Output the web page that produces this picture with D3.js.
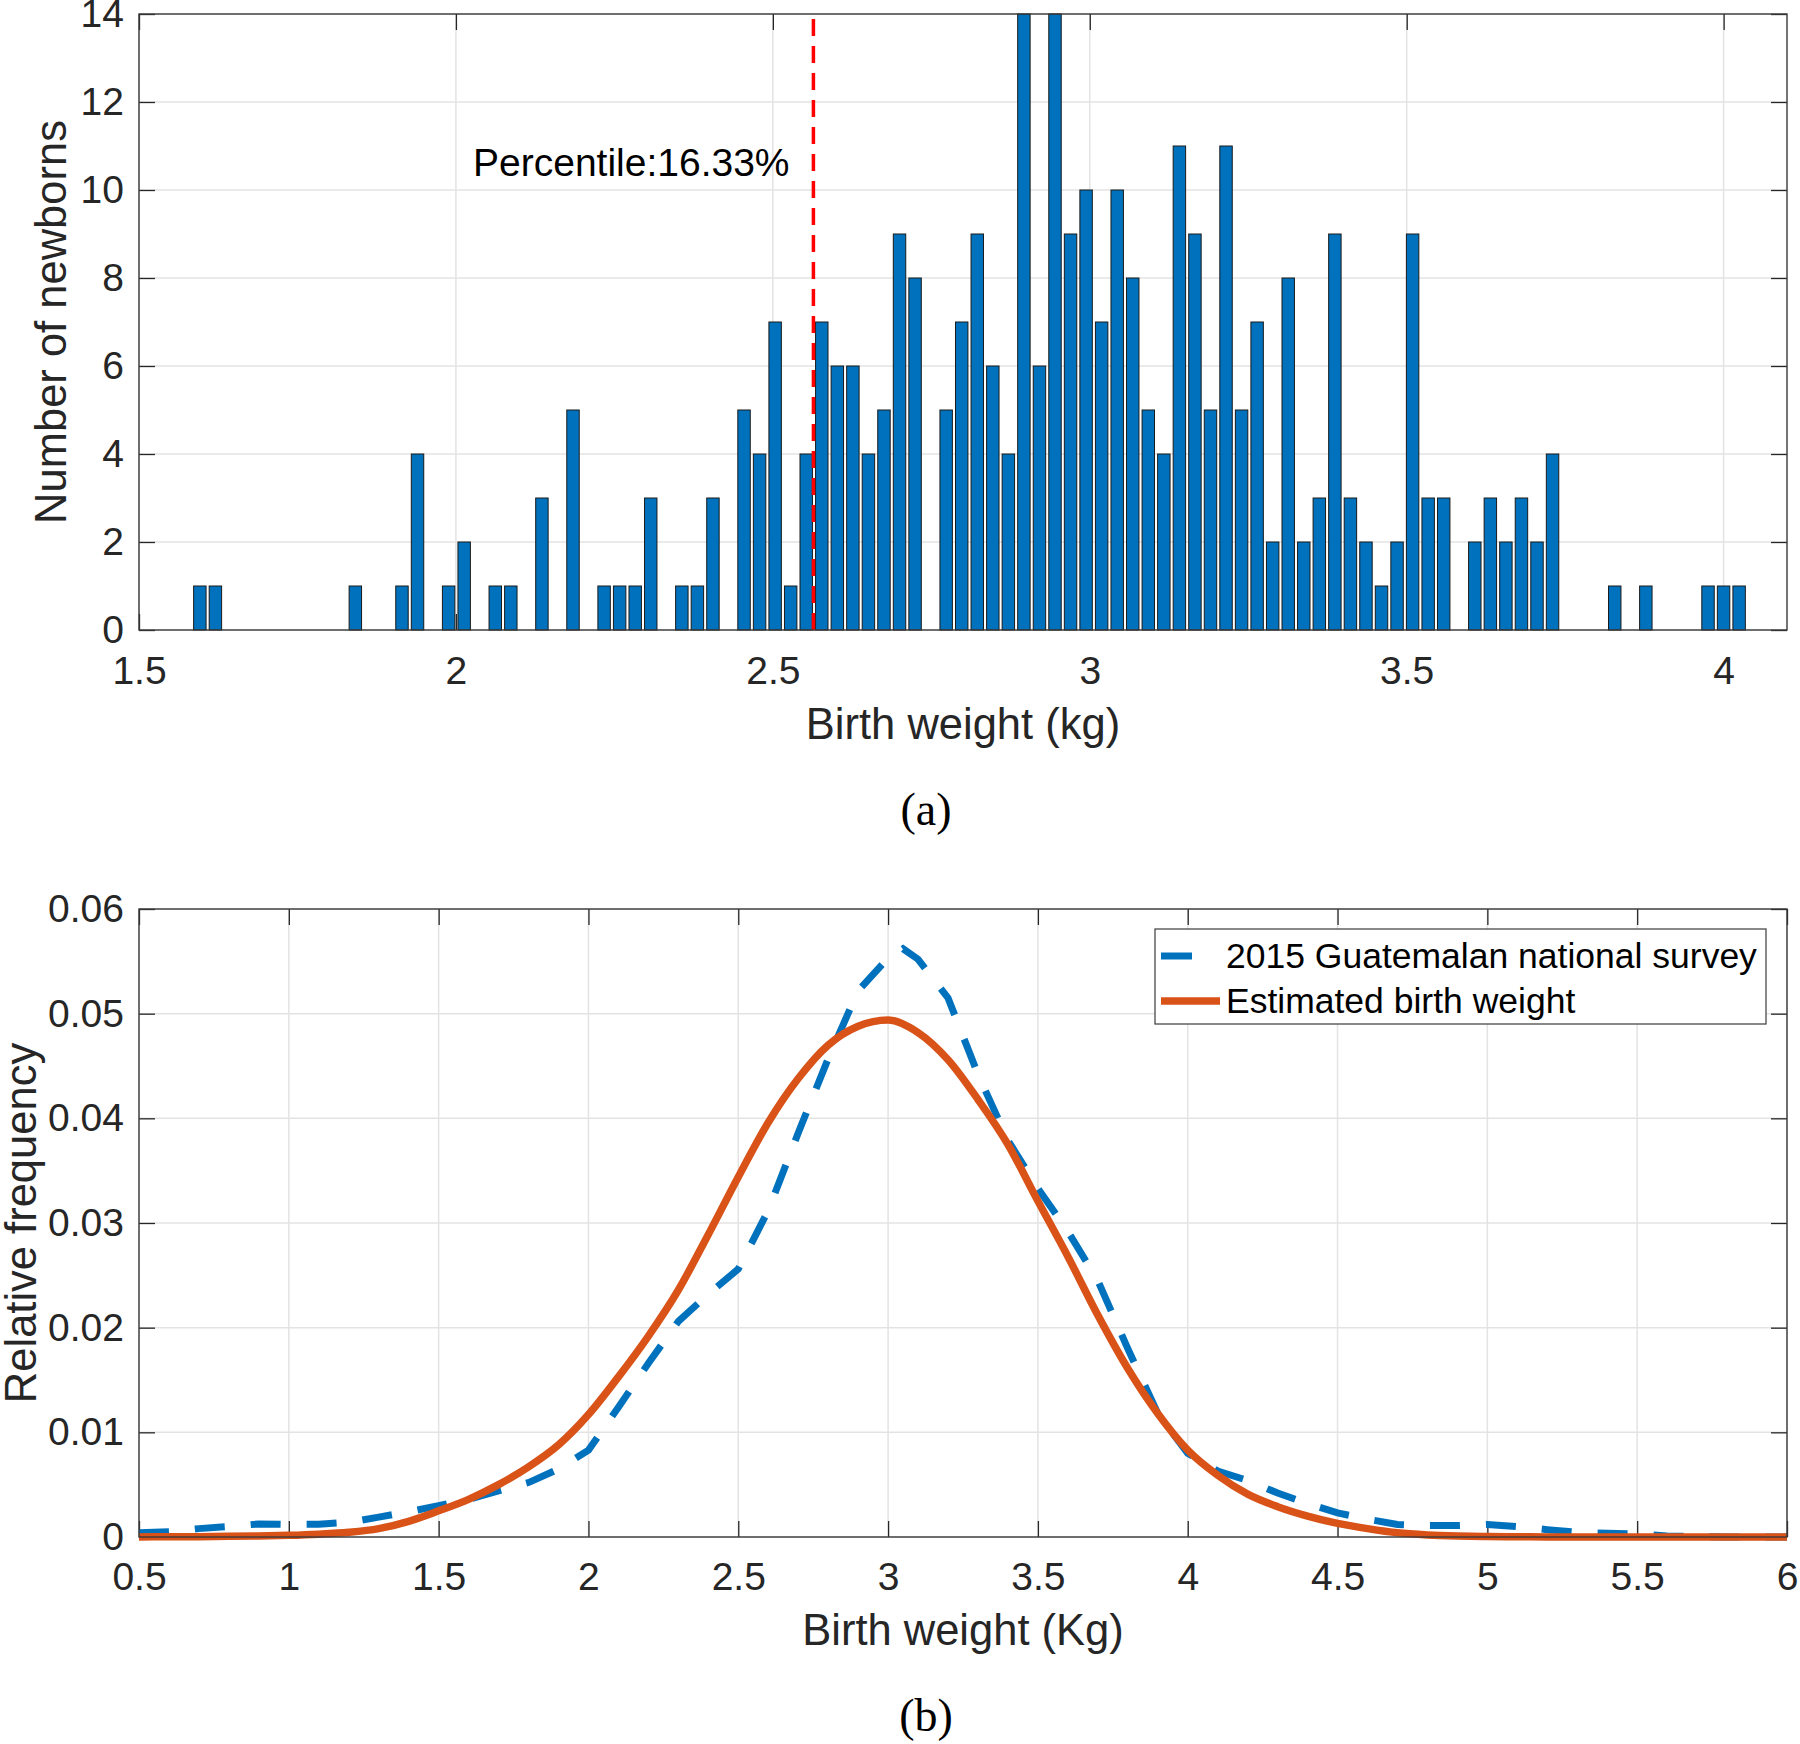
<!DOCTYPE html>
<html>
<head>
<meta charset="utf-8">
<script src="https://cdn.jsdelivr.net/npm/d3@7"></script>
<style>
  body { margin: 0; background: #fff; }
  svg { display: block; font-family: "Liberation Sans", Arial, sans-serif; }
  .tick line { stroke: #262626; stroke-width: 1.3; }
  .tick text { fill: #262626; font-size: 39px; }
  .domain { display: none; }
</style>
</head>
<body>
<script>
// ---- data ----
// panel (a): histogram, 100 bins
const binStart = 1.596;   // centre of first bin (kg)
const binWidth = 0.02453; // kg
const counts = [
  1, 1, 0, 0, 0, 0, 0, 0, 0, 0,
  1, 0, 0, 1, 4, 0, 1, 2, 0, 1,
  1, 0, 3, 0, 5, 0, 1, 1, 1, 3,
  0, 1, 1, 3, 0, 5, 4, 7, 1, 4,
  7, 6, 6, 4, 5, 9, 8, 0, 5, 7,
  9, 6, 4, 14, 6, 14, 9, 10, 7, 10,
  8, 5, 4, 11, 9, 5, 11, 5, 7, 2,
  8, 2, 3, 9, 3, 2, 1, 2, 9, 3,
  3, 0, 2, 3, 2, 3, 2, 4, 0, 0,
  0, 1, 0, 1, 0, 0, 0, 1, 1, 1
];
const percentileX = 2.564;
const percentileLabel = "Percentile:16.33%";
const xTicksA = [1.5, 2, 2.5, 3, 3.5, 4];
const yTicksA = [0, 2, 4, 6, 8, 10, 12, 14];

// panel (b): relative frequency curves
const surveyX = [0.5, 0.6, 0.7, 0.8, 0.9, 1.0, 1.1, 1.2, 1.3, 1.4, 1.5, 1.6, 1.7, 1.8, 1.9,
  2.0, 2.1, 2.2, 2.3, 2.4, 2.5, 2.6, 2.7, 2.8, 2.9, 3.0, 3.05, 3.1, 3.2, 3.3, 3.4, 3.5,
  3.6, 3.7, 3.8, 3.9, 4.0, 4.1, 4.2, 4.3, 4.4, 4.5, 4.6, 4.7, 4.8, 4.9, 5.0, 5.1, 5.2,
  5.3, 5.4, 5.5, 5.6, 5.7, 5.8, 5.9, 6.0];
const surveyY = [0.0004, 0.0005, 0.0008, 0.0010, 0.00125, 0.0012, 0.00122, 0.0014, 0.0019, 0.0024,
  0.0030, 0.0036, 0.0044, 0.0052, 0.0065, 0.0083, 0.0124, 0.0166, 0.0206, 0.0232, 0.0256,
  0.0312, 0.0386, 0.0457, 0.0522, 0.0553, 0.0562, 0.0552, 0.0515, 0.0442, 0.0379, 0.0333,
  0.0292, 0.0245, 0.0180, 0.0118, 0.0080, 0.0063, 0.0054, 0.0042, 0.0032, 0.0023, 0.0017,
  0.0012, 0.0011, 0.0011, 0.0012, 0.0010, 0.0007, 0.00045, 0.00035, 0.0003, 0.0001,
  0.00005, 0, 0, 0];
const estX = [0.5, 0.6, 0.7, 0.8, 0.9, 1.0, 1.1, 1.2, 1.3, 1.4, 1.5, 1.6, 1.7, 1.8, 1.9,
  2.0, 2.1, 2.2, 2.3, 2.4, 2.5, 2.6, 2.7, 2.8, 2.9, 3.0, 3.1, 3.2, 3.3, 3.4, 3.5,
  3.6, 3.7, 3.8, 3.9, 4.0, 4.1, 4.2, 4.3, 4.4, 4.5, 4.6, 4.7, 4.8, 4.9, 5.0, 5.1, 5.2,
  5.3, 5.4, 5.5, 5.6, 5.7, 5.8, 5.9, 6.0];
const estY = [0.00001, 0.00002, 0.00003, 0.00006, 0.0001, 0.00016, 0.00027, 0.00045, 0.0008, 0.0015,
  0.0025, 0.0036, 0.0050, 0.0067, 0.0088, 0.0117, 0.0153, 0.0192, 0.0236, 0.0289, 0.0344,
  0.0396, 0.0438, 0.0470, 0.0488, 0.0494, 0.0482, 0.0456, 0.0418, 0.0375, 0.0321,
  0.0268, 0.0212, 0.0161, 0.0118, 0.0083, 0.0059, 0.0041, 0.0029, 0.0020, 0.0013, 0.0008,
  0.0004, 0.0002, 0.0001, 0.00005, 0.00002, 0.00001, 0, 0, 0, 0, 0, 0, 0, 0];
const legendLabels = ["2015 Guatemalan national survey", "Estimated birth weight"];
const xTicksB = [0.5, 1, 1.5, 2, 2.5, 3, 3.5, 4, 4.5, 5, 5.5, 6];
const yTicksB = [0, 0.01, 0.02, 0.03, 0.04, 0.05, 0.06];

const blue = "#0072BD", orange = "#D95319";
const tickLen = 16;

const svg = d3.select("body")
  .append("svg")
  .attr("width", 1800)
  .attr("height", 1744);

svg.append("rect").attr("width", 1800).attr("height", 1744).attr("fill", "#fff");

// draws grid and ticks on all four sides
function frame(g, x, y, xt, yt, xfmt, yfmt, pad) {
  const [x0, x1] = x.range(), [y0, y1] = y.range();
  g.append("g").selectAll("line").data(xt).enter().append("line")
    .attr("x1", d => x(d)).attr("x2", d => x(d)).attr("y1", y1).attr("y2", y0)
    .attr("stroke", "#e3e3e3").attr("stroke-width", 1.5);
  g.append("g").selectAll("line").data(yt).enter().append("line")
    .attr("x1", x0).attr("x2", x1).attr("y1", d => y(d)).attr("y2", d => y(d))
    .attr("stroke", "#e3e3e3").attr("stroke-width", 1.5);

  g.append("g").attr("transform", "translate(0," + y0 + ")")
    .call(d3.axisBottom(x).tickValues(xt).tickFormat(xfmt).tickSize(-tickLen).tickSizeOuter(0).tickPadding(pad));
  g.append("g").attr("transform", "translate(0," + y1 + ")")
    .call(d3.axisTop(x).tickValues(xt).tickFormat("").tickSize(-tickLen).tickSizeOuter(0));
  g.append("g").attr("transform", "translate(" + x0 + ",0)")
    .call(d3.axisLeft(y).tickValues(yt).tickFormat(yfmt).tickSize(-tickLen).tickSizeOuter(0).tickPadding(15));
  g.append("g").attr("transform", "translate(" + x1 + ",0)")
    .call(d3.axisRight(y).tickValues(yt).tickFormat("").tickSize(-tickLen).tickSizeOuter(0));
  g.selectAll(".tick text").attr("font-family", null).attr("font-size", null);
}

function box(g, x, y) {
  const [x0, x1] = x.range(), [y0, y1] = y.range();
  g.append("rect").attr("x", x0).attr("y", y1).attr("width", x1 - x0).attr("height", y0 - y1)
    .attr("fill", "none").attr("stroke", "#3a3a3a").attr("stroke-width", 1.4);
}

// ---------- panel (a) ----------
const xA = d3.scaleLinear().domain([1.5, 4.1]).range([139, 1787]);
const yA = d3.scaleLinear().domain([0, 14]).range([630, 14]);
const gA = svg.append("g");
frame(gA, xA, yA, xTicksA, yTicksA, d3.format(""), d3.format(""), 26);

const barW = (xA(binWidth) - xA(0)) * 0.8;
gA.append("g").selectAll("rect")
  .data(counts.map((c, i) => ({x: binStart + i * binWidth, c: c})).filter(d => d.c > 0))
  .enter().append("rect")
  .attr("x", d => xA(d.x) - barW / 2)
  .attr("y", d => yA(d.c))
  .attr("width", barW)
  .attr("height", d => yA(0) - yA(d.c))
  .attr("fill", blue)
  .attr("stroke", "#1a1a1a")
  .attr("stroke-width", 1);

gA.append("line")
  .attr("x1", xA(percentileX)).attr("x2", xA(percentileX))
  .attr("y1", yA(0)).attr("y2", yA(14))
  .attr("stroke", "#ff0000").attr("stroke-width", 3.5)
  .attr("stroke-dasharray", "17,10");

box(gA, xA, yA);

gA.append("text")
  .attr("x", 473).attr("y", 162).attr("dy", "0.35em")
  .style("font-size", "39px").attr("fill", "#000")
  .text(percentileLabel);

gA.append("text")
  .attr("x", (139 + 1787) / 2).attr("y", 724).attr("dy", "0.35em")
  .attr("text-anchor", "middle").style("font-size", "43.5px").attr("fill", "#262626")
  .text("Birth weight (kg)");

gA.append("text")
  .attr("transform", "translate(51," + (14 + 630) / 2 + ") rotate(-90)")
  .attr("dy", "0.35em")
  .attr("text-anchor", "middle").style("font-size", "43.5px").attr("fill", "#262626")
  .text("Number of newborns");

svg.append("text")
  .attr("x", 926).attr("y", 809).attr("dy", "0.35em")
  .attr("text-anchor", "middle")
  .style("font-family", "'Liberation Serif', 'DejaVu Serif', serif").style("font-size", "46px")
  .text("(a)");

// ---------- panel (b) ----------
const xB = d3.scaleLinear().domain([0.5, 6]).range([139, 1787]);
const yB = d3.scaleLinear().domain([0, 0.06]).range([1537, 909]);
const gB = svg.append("g");
frame(gB, xB, yB, xTicksB, yTicksB, d3.format(""), d => d === 0 ? "0" : d3.format(".2f")(d), 25);

const line = d3.line().x(d => xB(d[0])).y(d => yB(d[1]));

gB.append("path")
  .datum(surveyX.map((v, i) => [v, surveyY[i]]))
  .attr("d", line)
  .attr("fill", "none").attr("stroke", blue).attr("stroke-width", 7)
  .attr("stroke-dasharray", "30,26");

gB.append("path")
  .datum(estX.map((v, i) => [v, estY[i]]))
  .attr("d", line.curve(d3.curveMonotoneX))
  .attr("fill", "none").attr("stroke", orange).attr("stroke-width", 7.5)
  .attr("stroke-linejoin", "round");

box(gB, xB, yB);

// legend
const leg = gB.append("g");
leg.append("rect").attr("x", 1155).attr("y", 929).attr("width", 611).attr("height", 95)
  .attr("fill", "#fff").attr("stroke", "#4a4a4a").attr("stroke-width", 1.3);
leg.append("line").attr("x1", 1161).attr("x2", 1220).attr("y1", 956).attr("y2", 956)
  .attr("stroke", blue).attr("stroke-width", 7).attr("stroke-dasharray", "31,40");
leg.append("line").attr("x1", 1161).attr("x2", 1220).attr("y1", 1001).attr("y2", 1001)
  .attr("stroke", orange).attr("stroke-width", 7.5);
leg.selectAll("text.lbl").data(legendLabels).enter().append("text")
  .attr("class", "lbl")
  .attr("x", 1226).attr("y", (d, i) => 956 + i * 45).attr("dy", "0.35em")
  .style("font-size", "35.5px").attr("fill", "#000")
  .text(d => d);

gB.append("text")
  .attr("x", (139 + 1787) / 2).attr("y", 1630).attr("dy", "0.35em")
  .attr("text-anchor", "middle").style("font-size", "43.5px").attr("fill", "#262626")
  .text("Birth weight (Kg)");

gB.append("text")
  .attr("transform", "translate(21," + (909 + 1537) / 2 + ") rotate(-90)")
  .attr("dy", "0.35em")
  .attr("text-anchor", "middle").style("font-size", "43.5px").attr("fill", "#262626")
  .text("Relative frequency");

svg.append("text")
  .attr("x", 926).attr("y", 1715).attr("dy", "0.35em")
  .attr("text-anchor", "middle")
  .style("font-family", "'Liberation Serif', 'DejaVu Serif', serif").style("font-size", "46px")
  .text("(b)");
</script>
</body>
</html>
